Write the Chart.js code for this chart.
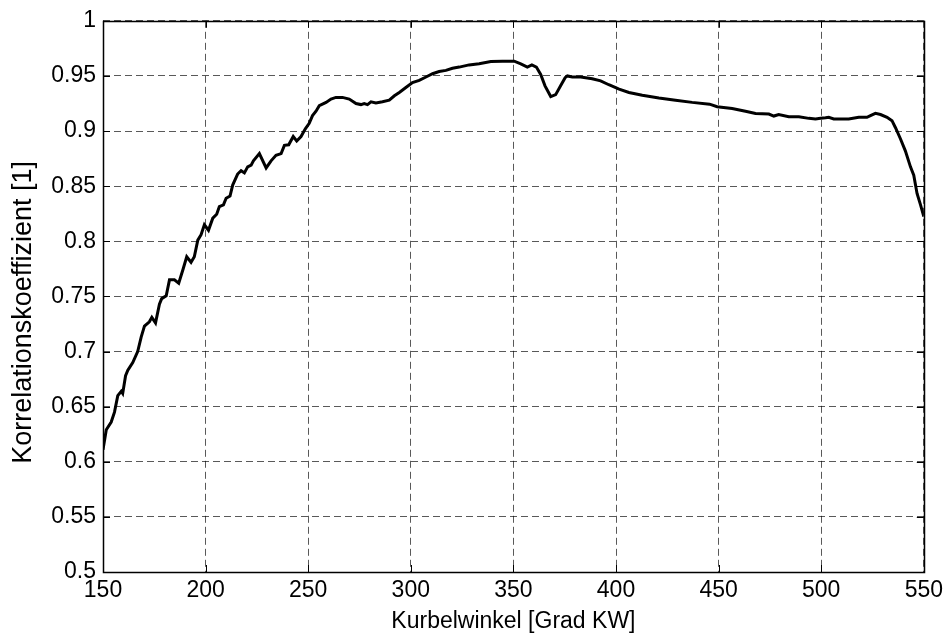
<!DOCTYPE html>
<html>
<head>
<meta charset="utf-8">
<script src="https://cdn.jsdelivr.net/npm/chart.js@4"></script>
<style>
  html, body { margin: 0; padding: 0; background: #fff; }
  #wrap { width: 948px; height: 641px; }
</style>
</head>
<body>
<div id="wrap"><canvas id="corr-chart" width="948" height="641"></canvas></div>
<script>
// Kurbelwinkel [Grad KW]
const angle = [
  150, 151.6, 154, 155.6, 157.2, 158.9, 159.6, 161, 162.1, 164.5,
  166.9, 168.6, 170.2, 172.6, 173.8, 175.6, 177.5, 178.6, 180.8, 182.4,
  184.8, 186.9, 188.9, 190.8, 192.9, 194.5, 196.2, 197.8, 199.4, 201.4,
  203.5, 205.4, 206.7, 208.7, 210, 211.9, 213.2, 215.6, 217.3, 218.9,
  220.5, 222.2, 223.3, 226.2, 229.5, 231.9, 234.3, 236.8, 238.4, 240.5,
  242.7, 244.4, 246.5, 248.6, 250.5, 252.1, 253.8, 255.4, 258.7, 261.1,
  263.5, 266.7, 270, 273.3, 275.7, 277.3, 278.9, 280.6, 283, 286.2,
  289.5, 292, 294.4, 297.6, 300.8, 304.1, 307.4, 310.6, 313.8, 317.1,
  320.3, 323.6, 328.4, 333.3, 339, 344.7, 350.4, 353.6, 356.8, 359,
  361.2, 363.3, 365.4, 368.2, 370.6, 373, 375.2, 376.3, 378.7, 382.8,
  385.2, 388.4, 392.5, 396.5, 401.5, 406.3, 412.8, 420.9, 429, 437.1,
  445.6, 449.3, 456.6, 463.1, 468, 474.5, 476.9, 479.3, 484.2, 489.1,
  494, 497.2, 499.7, 502.1, 503.7, 506.1, 513.4, 518.3, 522.3, 524,
  526.4, 528.9, 532.1, 534.5, 536.2, 538.6, 541, 543.5, 545.1, 546.7,
  548.4, 550
];

// Korrelationskoeffizient [1]
const coeff = [
  0.611, 0.629, 0.636, 0.645, 0.660, 0.664, 0.662, 0.678, 0.683, 0.690,
  0.700, 0.713, 0.723, 0.727, 0.731, 0.726, 0.743, 0.748, 0.7505, 0.765,
  0.765, 0.762, 0.774, 0.786, 0.781, 0.786, 0.801, 0.806, 0.815, 0.810,
  0.821, 0.8245, 0.8315, 0.833, 0.839, 0.841, 0.851, 0.861, 0.864, 0.862,
  0.8675, 0.869, 0.873, 0.8795, 0.8665, 0.873, 0.878, 0.8795, 0.887, 0.8875,
  0.895, 0.891, 0.895, 0.902, 0.907, 0.914, 0.918, 0.923, 0.926, 0.929,
  0.9305, 0.9305, 0.929, 0.925, 0.924, 0.925, 0.924, 0.9265, 0.9255, 0.9265,
  0.928, 0.932, 0.935, 0.9395, 0.944, 0.946, 0.949, 0.952, 0.954, 0.955,
  0.957, 0.958, 0.960, 0.961, 0.963, 0.9634, 0.9634, 0.961, 0.958, 0.960,
  0.958, 0.9514, 0.941, 0.9313, 0.933, 0.941, 0.9484, 0.950, 0.949, 0.949,
  0.9484, 0.9475, 0.9455, 0.942, 0.938, 0.935, 0.9325, 0.930, 0.928, 0.926,
  0.9244, 0.922, 0.9205, 0.918, 0.916, 0.9154, 0.9136, 0.915, 0.913, 0.913,
  0.9115, 0.911, 0.9115, 0.912, 0.9125, 0.911, 0.911, 0.9125, 0.9125, 0.914,
  0.916, 0.915, 0.9125, 0.9094, 0.903, 0.893, 0.882, 0.8675, 0.860, 0.8434,
  0.833, 0.8225
];

const xTicks = [150, 200, 250, 300, 350, 400, 450, 500, 550];
const yTicks = [0.5, 0.55, 0.6, 0.65, 0.7, 0.75, 0.8, 0.85, 0.9, 0.95, 1];

const xLabel = "Kurbelwinkel [Grad KW]";
const yLabel = "Korrelationskoeffizient [1]";

const FONT = "'Liberation Sans', Arial, Helvetica, sans-serif";

// box around the plot, short inward tick marks (matlab style) and the y label,
// which sits a bit lower than chart.js would centre it
const boxPlugin = {
  id: "box",
  afterDraw(chart) {
    const { ctx, chartArea: a, scales } = chart;
    const len = 7;
    ctx.save();
    ctx.strokeStyle = "#000";
    ctx.lineWidth = 1;
    ctx.beginPath();
    xTicks.forEach((v) => {
      const px = Math.round(scales.x.getPixelForValue(v)) + 0.5;
      ctx.moveTo(px, a.bottom);
      ctx.lineTo(px, a.bottom - len);
      ctx.moveTo(px, a.top);
      ctx.lineTo(px, a.top + len);
    });
    yTicks.forEach((v) => {
      const py = Math.round(scales.y.getPixelForValue(v)) + 0.5;
      ctx.moveTo(a.left, py);
      ctx.lineTo(a.left + len, py);
      ctx.moveTo(a.right, py);
      ctx.lineTo(a.right - len, py);
    });
    ctx.stroke();
    ctx.lineWidth = 1.5;
    ctx.strokeRect(Math.round(a.left) + 0.5, Math.round(a.top) + 0.5,
      Math.round(a.right - a.left), Math.round(a.bottom - a.top));

    ctx.translate(24, (a.top + a.bottom) / 2 + 16);
    ctx.rotate(-Math.PI / 2);
    ctx.fillStyle = "#000";
    ctx.font = `27px ${FONT}`;
    ctx.textAlign = "center";
    ctx.textBaseline = "middle";
    ctx.fillText(yLabel, 0, 0);
    ctx.restore();
  },
};

function buildChart() {
  const ctx = document.getElementById("corr-chart");
  return new Chart(ctx, {
    type: "line",
    data: {
      datasets: [
        {
          data: angle.map((x, i) => ({ x, y: coeff[i] })),
          borderColor: "#000",
          borderWidth: 3,
          pointRadius: 0,
          tension: 0,
          fill: false,
        },
      ],
    },
    options: {
      responsive: false,
      animation: false,
      layout: { padding: { left: 0, right: 23, top: 16, bottom: 0 } },
      plugins: { legend: { display: false }, tooltip: { enabled: false } },
      scales: {
        x: {
          type: "linear",
          min: 150,
          max: 550,
          afterBuildTicks: (scale) => {
            scale.ticks = xTicks.map((value) => ({ value }));
          },
          afterFit: (scale) => {
            scale.height = 69;
          },
          ticks: {
            color: "#000",
            font: { family: FONT, size: 23 },
            padding: 5,
            maxRotation: 0,
          },
          grid: {
            color: "rgba(0,0,0,0.65)",
            lineWidth: 1,
            drawTicks: false,
          },
          border: { display: false, dash: [7, 4] },
          title: {
            display: true,
            text: xLabel,
            color: "#000",
            font: { family: FONT, size: 23 },
            padding: { top: 0, bottom: 6 },
          },
        },
        y: {
          type: "linear",
          min: 0.5,
          max: 1,
          afterBuildTicks: (scale) => {
            scale.ticks = yTicks.map((value) => ({ value }));
          },
          afterFit: (scale) => {
            scale.width = 103;
          },
          ticks: {
            color: "#000",
            font: { family: FONT, size: 23 },
            padding: 7,
            callback: (v) => String(Number(v.toFixed(2))),
          },
          grid: {
            color: "rgba(0,0,0,0.65)",
            lineWidth: 1,
            drawTicks: false,
          },
          border: { display: false, dash: [7, 4] },
          title: { display: false },
        },
      },
    },
    plugins: [boxPlugin],
  });
}

window.addEventListener("DOMContentLoaded", buildChart);
</script>
</body>
</html>
